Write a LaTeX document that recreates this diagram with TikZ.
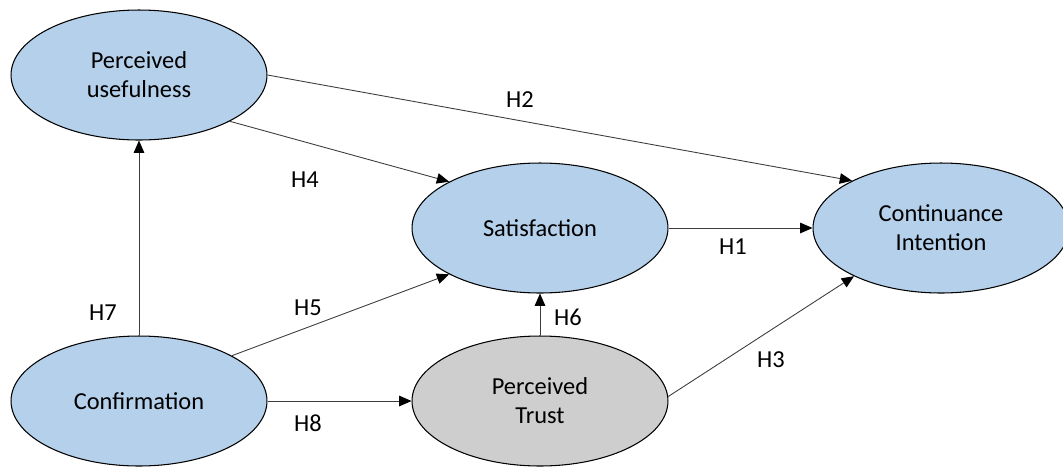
\documentclass[tikz,border=0pt]{standalone}
\usepackage{fontspec}
\setmainfont{Carlito}
\usetikzlibrary{arrows.meta,shapes.geometric}
\definecolor{constructblue}{RGB}{181,208,234}
\definecolor{trustgrey}{RGB}{206,206,206}
\definecolor{linegrey}{RGB}{60,60,60}
\tikzset{
  construct/.style={
    ellipse,
    draw=black,
    line width=0.6pt,
    fill=constructblue,
    minimum width=5.12cm,
    minimum height=2.6cm,
    inner sep=0pt,
    align=center,
    font=\fontsize{13.9}{16.5}\selectfont
  },
  hyp/.style={
    inner sep=0pt,
    font=\fontsize{13.9}{16.5}\selectfont
  },
  arrow/.style={
    -{Triangle[length=7pt,width=6pt,color=black]},
    line width=0.5pt,
    linegrey
  }
}

\begin{document}
\begin{tikzpicture}[x=0.02cm,y=-0.02cm]
\useasboundingbox (0,0) rectangle (1063,468);
\node[construct] (pu) at (139,75) {Perceived\\usefulness};
\node[construct] (sat) at (540,228) {Satisfaction};
\node[construct] (ci) at (941,228) {Continuance\\Intention};
\node[construct] (conf) at (139,401) {Confirmation};
\node[construct, fill=trustgrey] (pt) at (540,401) {Perceived\\Trust};
\draw[arrow] (pu.east) -- (ci.152);
\draw[arrow] (pu.-27) -- (sat.153);
\draw[arrow] (conf.north) -- (pu.south);
\draw[arrow] (conf.26) -- (sat.207);
\draw[arrow] (conf.east) -- (pt.west);
\draw[arrow] (pt.north) -- (sat.south);
\draw[arrow] (sat.east) -- (ci.west);
\draw[arrow] (pt.2) -- (ci.209);
\node[hyp] (h1) at (733,247) {H1};
\node[hyp] (h2) at (520,100) {H2};
\node[hyp] (h3) at (771,360) {H3};
\node[hyp] (h4) at (305,180) {H4};
\node[hyp] (h5) at (308,308) {H5};
\node[hyp] (h6) at (568,317) {H6};
\node[hyp] (h7) at (103,313) {H7};
\node[hyp] (h8) at (308,423) {H8};
\end{tikzpicture}
\end{document}
